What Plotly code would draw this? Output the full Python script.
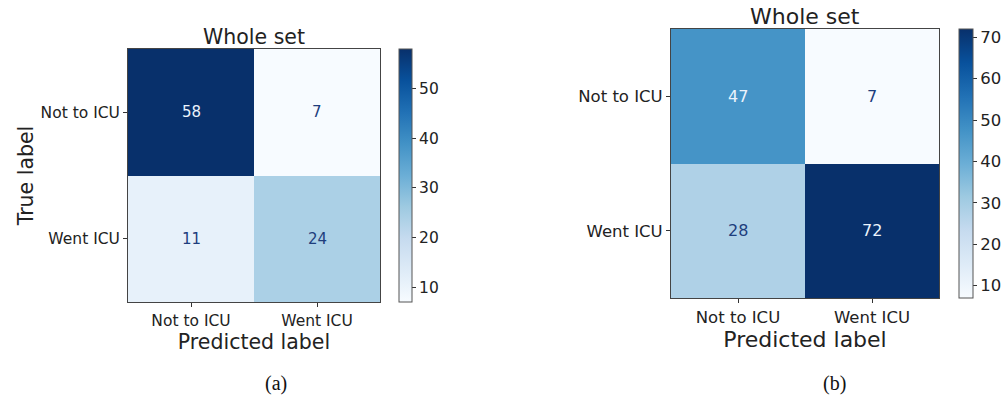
import plotly.graph_objects as go

# ---- data ----
classes = ["Not to ICU", "Went ICU"]
cm_a = [[58, 7], [11, 24]]
cm_b = [[47, 7], [28, 72]]
cbar_ticks_a = [10, 20, 30, 40, 50]
cbar_ticks_b = [10, 20, 30, 40, 50, 60, 70]
title_text = "Whole set"
xlabel = "Predicted label"
ylabel = "True label"
captions = ["(a)", "(b)"]

blues = [[0.0, "rgb(247,251,255)"], [0.125, "rgb(222,235,247)"], [0.25, "rgb(198,219,239)"],
         [0.375, "rgb(158,202,225)"], [0.5, "rgb(107,174,214)"], [0.625, "rgb(66,146,198)"],
         [0.75, "rgb(33,113,181)"], [0.875, "rgb(8,81,156)"], [1.0, "rgb(8,48,107)"]]

W, H = 1004, 400
FONT = "DejaVu Sans"
TXT = "#222222"
DARK = "rgb(30,62,125)"
LIGHT = "rgb(235,243,252)"

def fx(px):
    return px / W

def fy(py):
    return 1 - py / H

# pixel boxes: (left, top, right, bottom)
box_a = (128, 49, 380, 302)
box_b = (671, 29, 939, 298)
cb_a = (399, 13)
cb_b = (959, 14)

fig = go.Figure()

panels = [
    (cm_a, box_a, cb_a, cbar_ticks_a, "x", "y", 15.5, 15, 20.5, True, captions[0], 276),
    (cm_b, box_b, cb_b, cbar_ticks_b, "x2", "y2", 16.5, 16, 22, False, captions[1], 834),
]

layout_axes = {}
for i, (cm, box, cb, cticks, xa, ya, tickfs, numfs, labfs, show_ylab, cap, capx) in enumerate(panels):
    zvals = [v for row in cm for v in row]
    zmin, zmax = min(zvals), max(zvals)
    left, top, right, bottom = box
    fig.add_trace(go.Heatmap(
        z=cm, x=classes, y=classes, xaxis=xa, yaxis=ya,
        colorscale=blues, zmin=zmin, zmax=zmax, xgap=0, ygap=0,
        hoverinfo="skip",
        colorbar=dict(
            x=fx(cb[0]), xanchor="left", xpad=0, ypad=0,
            y=fy(bottom), yanchor="bottom", len=(bottom - top) / H, lenmode="fraction",
            thickness=cb[1], thicknessmode="pixels",
            outlinewidth=1, outlinecolor="#555555",
            tickvals=cticks, ticks="outside", ticklen=4, tickcolor="#333333",
            tickfont=dict(family=FONT, size=tickfs, color=TXT),
        ),
    ))
    thresh = (zmin + zmax) / 2
    for r, rowname in enumerate(classes):
        for c, colname in enumerate(classes):
            v = cm[r][c]
            fig.add_annotation(x=colname, y=rowname, xref=xa, yref=ya, text=str(v),
                               showarrow=False,
                               font=dict(family=FONT, size=numfs, color=LIGHT if v > thresh else DARK))
    axname = "xaxis" if xa == "x" else "xaxis2"
    ayname = "yaxis" if ya == "y" else "yaxis2"
    layout_axes[axname] = dict(
        domain=[fx(left), fx(right)], anchor=ya,
        showline=True, mirror=True, linecolor="#444444", linewidth=1,
        ticks="outside", ticklen=4, tickcolor="#333333",
        tickfont=dict(family=FONT, size=tickfs, color=TXT),
        title=dict(text=xlabel, font=dict(family=FONT, size=labfs, color=TXT), standoff=2),
        showgrid=False, zeroline=False, fixedrange=True,
    )
    layout_axes[ayname] = dict(
        domain=[fy(bottom), fy(top)], anchor=xa, autorange="reversed",
        showline=True, mirror=True, linecolor="#444444", linewidth=1,
        ticks="outside", ticklen=4, tickcolor="#333333",
        tickfont=dict(family=FONT, size=tickfs, color=TXT),
        title=dict(text=ylabel if show_ylab else "", font=dict(family=FONT, size=labfs, color=TXT), standoff=1),
        showgrid=False, zeroline=False, fixedrange=True,
    )
    fig.add_annotation(text=title_text, xref="paper", yref="paper",
                       x=fx((left + right) / 2), y=fy(top), yanchor="bottom", xanchor="center",
                       yshift=-2, showarrow=False,
                       font=dict(family=FONT, size=labfs, color=TXT))
    fig.add_annotation(text=cap, xref="paper", yref="paper", x=fx(capx), y=fy(383),
                       xanchor="center", yanchor="middle", showarrow=False,
                       font=dict(family="Liberation Serif", size=20, color="#111111"))

fig.update_layout(
    width=W, height=H, margin=dict(l=0, r=0, t=0, b=0, autoexpand=False),
    paper_bgcolor="white", plot_bgcolor="white", showlegend=False,
    **layout_axes,
)

fig.write_html(
    "out.html",
    config={"displayModeBar": False},
    post_script="document.body.style.margin='0';document.body.style.padding='0';document.body.style.overflow='hidden';",
)
